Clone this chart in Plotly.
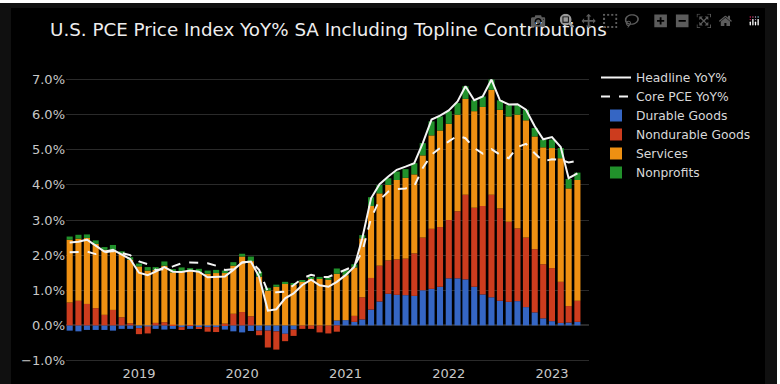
import plotly.graph_objects as go

months = ["2018-05","2018-06","2018-07","2018-08","2018-09","2018-10","2018-11","2018-12",
"2019-01","2019-02","2019-03","2019-04","2019-05","2019-06","2019-07","2019-08","2019-09","2019-10","2019-11","2019-12",
"2020-01","2020-02","2020-03","2020-04","2020-05","2020-06","2020-07","2020-08","2020-09","2020-10","2020-11","2020-12",
"2021-01","2021-02","2021-03","2021-04","2021-05","2021-06","2021-07","2021-08","2021-09","2021-10","2021-11","2021-12",
"2022-01","2022-02","2022-03","2022-04","2022-05","2022-06","2022-07","2022-08","2022-09","2022-10","2022-11","2022-12",
"2023-01","2023-02","2023-03","2023-04"]
headline = [2.36,2.38,2.44,2.27,2.10,2.15,2.02,1.89,1.50,1.43,1.53,1.66,1.53,1.52,1.56,1.53,1.37,1.39,1.39,1.58,
1.79,1.82,1.39,0.42,0.46,0.77,0.91,1.15,1.30,1.14,1.10,1.24,1.43,1.67,2.48,3.62,4.02,4.24,4.43,4.52,4.62,5.19,5.86,5.97,
6.12,6.38,6.81,6.41,6.52,7.00,6.41,6.29,6.30,6.14,5.67,5.30,5.36,5.08,4.19,4.33]
core = [2.08,2.08,2.10,2.03,2.08,2.12,2.06,2.00,1.82,1.74,1.58,1.60,1.68,1.77,1.79,1.79,1.77,1.70,1.58,1.60,
1.79,1.82,1.58,0.96,0.94,0.96,1.15,1.34,1.44,1.38,1.38,1.48,1.57,1.69,2.10,3.05,3.57,3.81,3.88,3.90,3.97,4.48,4.86,5.05,
5.24,5.40,5.33,5.05,4.89,5.02,4.86,4.76,5.08,5.17,4.90,4.67,4.73,4.71,4.64,4.69]
durable = [-.15,-.17,-.13,-.13,-.13,-.15,-.10,-.10,-.08,-.03,-.10,-.12,-.10,-.05,-.10,-.05,-.05,-.05,-.12,-.17,
-.20,-.16,-.15,-.15,-.17,-.24,-.12,.0,.0,.0,.0,.14,.15,.10,.17,.45,.68,.90,.87,.86,.84,1.0,1.04,1.10,
1.34,1.34,1.31,1.10,.88,.80,.70,.67,.69,.52,.37,.20,.12,.07,.08,.10]
nondurable = [.65,.70,.61,.49,.30,.44,.23,.06,-.17,-.20,.07,.09,.02,-.08,.01,-.04,-.13,-.14,.05,.33,
.38,.26,-.13,-.48,-.52,-.21,-.18,-.10,-.10,-.20,-.23,-.18,-.0,.17,.63,.90,1.02,.95,1.01,1.04,1.21,1.50,1.71,1.70,
1.66,1.91,2.41,2.25,2.52,2.92,2.63,2.28,2.07,1.98,1.80,1.54,1.51,1.17,.47,.60]
services = [1.79,1.77,1.88,1.83,1.85,1.71,1.81,1.81,1.68,1.56,1.51,1.61,1.49,1.55,1.54,1.52,1.47,1.49,1.44,1.37,
1.58,1.57,1.39,.99,1.10,1.20,1.15,1.25,1.34,1.33,1.30,1.33,1.28,1.38,1.68,2.05,2.06,2.15,2.26,2.30,2.25,2.34,2.66,2.75,
2.74,2.75,2.73,2.75,2.82,2.99,2.81,3.00,3.24,3.34,3.21,3.33,3.42,3.52,3.35,3.44]
nonprofits = [.09,.11,.10,.10,.08,.14,.07,.07,.08,.10,.08,.12,.09,.10,.08,.09,.09,.09,.07,.10,
.08,.13,.14,.08,.06,.04,.05,.03,.03,.05,.06,.15,.14,.09,.09,.25,.24,.19,.24,.25,.32,.35,.40,.40,
.36,.33,.36,.31,.30,.29,.27,.32,.27,.30,.24,.22,.24,.29,.27,.21]
year_ticks = ["2019-01-01","2020-01-01","2021-01-01","2022-01-01","2023-01-01"]
year_labels = ["2019","2020","2021","2022","2023"]
y_ticks = [-1,0,1,2,3,4,5,6,7]
y_labels = ["−1.0%","0.0%","1.0%","2.0%","3.0%","4.0%","5.0%","6.0%","7.0%"]

font = "DejaVu Sans, Verdana, sans-serif"
W, H = 777, 381
L, R, T, B = 66, 188, 72, 20
def fx(px): return (px - L) / (W - L - R)
def fy(py): return 1 - (py - T) / (H - T - B)
frame = [dict(type="rect", xref="paper", yref="paper", layer="below", line=dict(width=0), fillcolor="#101010",
              x0=fx(a), x1=fx(b), y0=fy(c), y1=fy(d))
         for a, b, c, d in [(0, 11, 0, H), (0, W, 0, 5), (765, W, 0, H)]]

fig = go.Figure()
fig.add_trace(go.Scatter(x=months, y=headline, name="Headline YoY%", mode="lines",
                         line=dict(color="#f4f4f4", width=2)))
fig.add_trace(go.Scatter(x=months, y=core, name="Core PCE YoY%", mode="lines",
                         line=dict(color="#f4f4f4", width=2, dash="dash")))
for name, vals, col in [("Durable Goods", durable, "#3566c4"),
                        ("Nondurable Goods", nondurable, "#cc3c1e"),
                        ("Services", services, "#ee9012"),
                        ("Nonprofits", nonprofits, "#21912b")]:
    fig.add_trace(go.Bar(x=months, y=vals, name=name, marker=dict(color=col, line=dict(width=0))))

fig.update_layout(
    width=W, height=H, barmode="relative", bargap=0.23,
    paper_bgcolor="#000000", plot_bgcolor="#000000",
    margin=dict(l=L, r=R, t=T, b=B, autoexpand=False),
    font=dict(family=font, color="#d8d8d8", size=12),
    title=dict(text="U.S. PCE Price Index YoY% SA Including Topline Contributions",
               x=50/W, xanchor="left", y=1-27/H, yanchor="middle",
               font=dict(size=18.3, color="#eeeeee", family=font)),
    legend=dict(x=fx(596), y=fy(60), xanchor="left", yanchor="top", traceorder="normal",
                font=dict(size=12.3, color="#d8d8d8"), bgcolor="rgba(0,0,0,0)", itemwidth=30,
                tracegroupgap=0),
    modebar=dict(bgcolor="rgba(0,0,0,0)", color="#5c5c5c", activecolor="#9a9a9a"),
    xaxis=dict(type="date", range=["2018-04-18", "2023-05-12"], tickvals=year_ticks, ticktext=year_labels,
               showgrid=False, zeroline=False, ticks="", tickfont=dict(size=13, color="#c8c8c8")),
    yaxis=dict(range=[-1.1, 7.13], tickvals=y_ticks, ticktext=y_labels, showgrid=True,
               gridcolor="#2a2a2a", gridwidth=1, zeroline=True, zerolinecolor="#2a2a2a",
               ticks="", tickfont=dict(size=13, color="#c8c8c8")),
    shapes=frame,
)
post = """
document.body.style.margin='0';
document.body.style.background='#ffffff';
var gd=document.getElementsByClassName('plotly-graph-div')[0];
gd.style.marginTop='3px';
var s=document.createElement('style');
s.textContent='.modebar{transform:scale(.9);transform-origin:100% 0;top:8px!important;right:12px!important}'
 +'.plotlyjsicon{background:#3f5f95}';
document.head.appendChild(s);
"""
fig.write_html("out.html", config={"displayModeBar": True, "displaylogo": True}, post_script=post)
